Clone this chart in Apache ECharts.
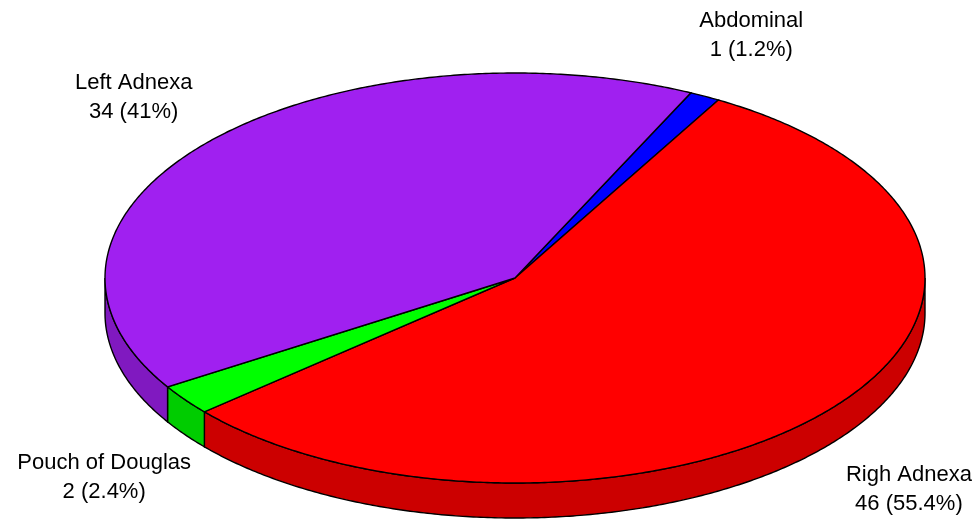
<!DOCTYPE html>
<html>
<head>
<meta charset="utf-8">
<style>
  html, body { margin: 0; padding: 0; background: #ffffff; }
  #chart { width: 976px; height: 520px; }
</style>
<script src="https://cdn.jsdelivr.net/npm/echarts@6/dist/echarts.min.js"></script>
</head>
<body>
<div id="chart"></div>
<script>
// Location of lesions, listed clockwise from the top of the pie
const categories = ['Abdominal', 'Righ Adnexa', 'Pouch of Douglas', 'Left Adnexa'];
const counts = [1, 46, 2, 34];
const topColors = ['#0000FF', '#FF0000', '#00FF00', '#A020F0'];
const sideColors = ['#0000CC', '#CC0000', '#00CC00', '#8019C0'];

// Geometry of the tilted pie
const CX = 515, CY = 278;     // centre of the top face
const RX = 410, RY = 205;     // ellipse radii
const DEPTH = 35;             // height of the side wall
const START_DEG = 64.6;       // angle of the first slice edge (counter-clockwise from +x)
const LABEL_KX = 1.245, LABEL_KY = 1.35;

const total = counts.reduce((a, b) => a + b, 0);
const starts = [];
(function () {
  let a = START_DEG;
  counts.forEach(function (v) {
    starts.push(a);
    a -= v / total * 360;
  });
})();

function pt(deg, dy) {
  const r = deg * Math.PI / 180;
  return [CX + RX * Math.cos(r), CY - RY * Math.sin(r) + (dy || 0)];
}

function arcPoints(from, to, dy) {
  // from > to, clockwise sweep
  const pts = [];
  const n = Math.max(2, Math.ceil((from - to) / 0.5));
  for (let i = 0; i <= n; i++) {
    pts.push(pt(from - (from - to) * i / n, dy));
  }
  return pts;
}

function pctText(v) {
  let s = (v / total * 100).toFixed(1);
  if (s.endsWith('.0')) s = s.slice(0, -2);
  return s + '%';
}

function renderItem(params, api) {
  const i = params.dataIndex;
  const value = api.value(0);
  const a0 = starts[i];
  const a1 = a0 - value / total * 360;
  const children = [];

  // Front side wall: part of the slice lying in the lower half of the ellipse
  [0, -360].forEach(function (shift) {
    const hi = Math.min(a0, 0 + shift);
    const lo = Math.max(a1, -180 + shift);
    if (hi > lo) {
      const topArc = arcPoints(hi, lo, 0);
      const botArc = arcPoints(hi, lo, DEPTH).reverse();
      children.push({
        type: 'polygon',
        shape: { points: topArc.concat(botArc) },
        style: { fill: sideColors[i], stroke: '#000', lineWidth: 1.4 },
        z2: 1
      });
    }
  });

  // Top face
  children.push({
    type: 'polygon',
    shape: { points: [[CX, CY]].concat(arcPoints(a0, a1, 0)) },
    style: { fill: topColors[i], stroke: '#000', lineWidth: 1.4 },
    z2: 2
  });

  // Label outside the slice
  const mid = (a0 + a1) / 2;
  const r = mid * Math.PI / 180;
  const s = Math.sin(r);
  const lx = CX + LABEL_KX * RX * Math.cos(r);
  const ly = CY - LABEL_KY * RY * s + (s < 0 ? DEPTH : 3);
  children.push({
    type: 'text',
    x: lx,
    y: ly,
    style: {
      text: categories[i] + '\n' + value + ' (' + pctText(value) + ')',
      fill: '#000',
      font: "22px 'Liberation Sans', Arial, sans-serif",
      lineHeight: 29,
      align: 'center',
      verticalAlign: 'middle'
    },
    z2: 3
  });

  return { type: 'group', children: children };
}

const chart = echarts.init(document.getElementById('chart'), null, { renderer: 'canvas' });
chart.setOption({
  animation: false,
  backgroundColor: '#ffffff',
  series: [{
    type: 'custom',
    coordinateSystem: 'none',
    renderItem: renderItem,
    data: counts.map(function (v, i) { return { name: categories[i], value: [v] }; })
  }]
});
</script>
</body>
</html>
